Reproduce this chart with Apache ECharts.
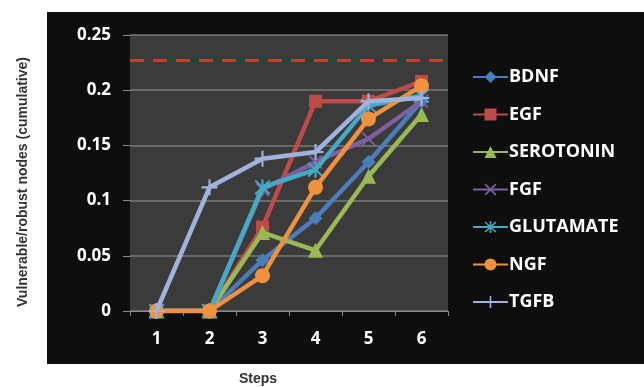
<!DOCTYPE html>
<html>
<head>
<meta charset="utf-8">
<script src="https://cdn.jsdelivr.net/npm/echarts@6/dist/echarts.min.js"></script>
<style>html,body{margin:0;padding:0;background:#fff;}#c{width:644px;height:387px;}</style>
</head>
<body>
<div id="c"></div>
<script>
const steps = ['1','2','3','4','5','6'];
const yTicks = [0, 0.05, 0.1, 0.15, 0.2, 0.25];
const threshold = 0.227;
const BDNF = [0, 0, 0.046, 0.084, 0.135, 0.19];
const EGF = [0, 0, 0.076, 0.19, 0.19, 0.208];
const SEROTONIN = [0, 0, 0.071, 0.055, 0.122, 0.178];
const FGF = [0, 0, 0.11, 0.135, 0.156, 0.19];
const GLUTAMATE = [0, 0, 0.112, 0.128, 0.186, 0.195];
const NGF = [0, 0, 0.032, 0.112, 0.174, 0.204];
const TGFB = [0, 0.112, 0.138, 0.144, 0.19, 0.193];

const plusPath = 'path://M-1.3,-10L1.3,-10L1.3,10L-1.3,10ZM-10,-1.3L10,-1.3L10,1.3L-10,1.3Z';
const xPath = 'path://M-9.3,-7.5L-7.5,-9.3L9.3,7.5L7.5,9.3ZM7.5,-9.3L9.3,-7.5L-7.5,9.3L-9.3,7.5Z';
const starPath = 'path://M-1.2,-10L1.2,-10L1.2,10L-1.2,10ZM-9.3,-7.6L-7.6,-9.3L9.3,7.6L7.6,9.3ZM7.6,-9.3L9.3,-7.6L-7.6,9.3L-9.3,7.6Z';

const defs = [
  {name:'BDNF', data:BDNF, color:'#4a7ebb', symbol:'diamond', size:14},
  {name:'EGF', data:EGF, color:'#be4b48', symbol:'rect', size:13},
  {name:'SEROTONIN', data:SEROTONIN, color:'#98b954', symbol:'triangle', size:15},
  {name:'FGF', data:FGF, color:'#7d60a0', symbol:xPath, size:14},
  {name:'GLUTAMATE', data:GLUTAMATE, color:'#46aac5', symbol:starPath, size:16},
  {name:'NGF', data:NGF, color:'#f0913f', symbol:'circle', size:15},
  {name:'TGFB', data:TGFB, color:'#a0b3df', symbol:plusPath, size:16}
];

const series = defs.map((d, i) => {
  const s = {
    name: d.name, type: 'line', data: d.data,
    symbol: d.symbol, symbolSize: d.size, showAllSymbol: true,
    lineStyle: {color: d.color, width: 4.5},
    itemStyle: {color: d.color},
    z: 3 + i
  };
  if (i === 0) {
    s.markLine = {
      silent: true, symbol: ['none','none'], label: {show:false}, precision: 4,
      lineStyle: {color:'#e0302e', type:[14,9], width:3},
      data: [{yAxis: threshold}]
    };
  }
  return s;
});

const chart = echarts.init(document.getElementById('c'));
chart.setOption({
  animation: false,
  backgroundColor: '#ffffff',
  graphic: [
    {type:'rect', z:-10, shape:{x:47, y:12, width:597, height:352}, style:{fill:'#0e0e0e'}},
    {type:'text', x:23, y:182, z:10, rotation:Math.PI/2,
      style:{text:'Vulnerable/robust nodes (cumulative)', font:'bold 14px "Liberation Sans", Arial, sans-serif', fill:'#333', align:'center', verticalAlign:'middle'}},
    {type:'text', z:10, x:258, y:379,
      style:{text:'Steps', font:'bold 14px "Liberation Sans", Arial, sans-serif', fill:'#333', align:'center', verticalAlign:'middle'}}
  ],
  grid: {left:130, right:196, top:35, bottom:76, show:true, backgroundColor:'#3b3b3b', borderWidth:0},
  xAxis: {
    type:'category', data: steps, boundaryGap:true,
    axisLine:{show:true, lineStyle:{color:'#8a8a8a', width:1}},
    axisTick:{show:true, length:5, lineStyle:{color:'#8a8a8a'}},
    axisLabel:{color:'#ffffff', fontWeight:'bold', fontSize:17, fontFamily:'"Open Sans", sans-serif', margin:20},
    splitLine:{show:false}
  },
  yAxis: {
    type:'value', min:0, max:0.25, interval:0.05,
    axisLine:{show:false},
    axisTick:{show:true, length:7, lineStyle:{color:'#8a8a8a'}},
    axisLabel:{color:'#ffffff', fontWeight:'bold', fontSize:17, fontFamily:'"Open Sans", sans-serif', margin:19,
      formatter: v => { const t = yTicks.find(x => Math.abs(x - v) < 1e-9); return String(t); }},
    splitLine:{show:true, lineStyle:{color:'#7a7a7a', width:1.5}}
  },
  legend: {
    orient:'vertical', left:472, top:68, padding:0,
    itemWidth:35, itemHeight:15, itemGap:19.5,
    textStyle:{color:'#ffffff', fontWeight:'bold', fontSize:18, fontFamily:'"Open Sans", sans-serif', padding:[0,0,0,-4]},
    data: defs.map(d => d.name)
  },
  series: series
});
</script>
</body>
</html>
